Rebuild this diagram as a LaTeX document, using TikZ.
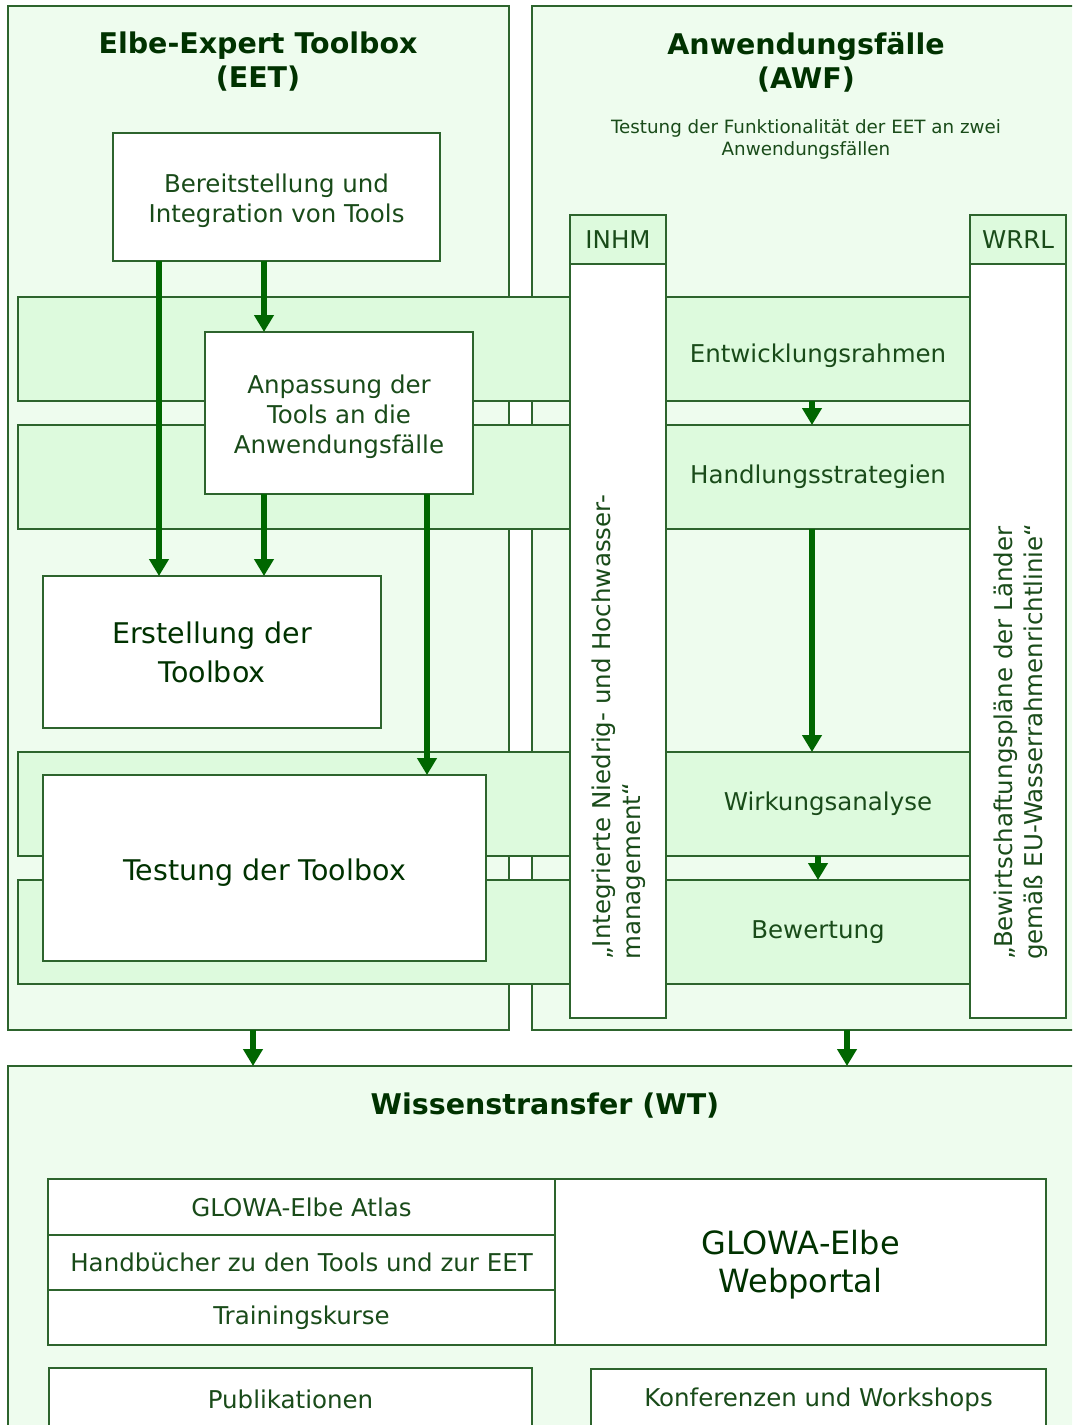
\documentclass[tikz,border=0pt]{standalone}
\usepackage{fontspec}
\setmainfont{DejaVu Sans}
\usetikzlibrary{arrows.meta}
\definecolor{lineg}{RGB}{45,100,45}
\definecolor{outerf}{RGB}{238,252,238}
\definecolor{bandf}{RGB}{221,250,221}
\definecolor{arrowg}{RGB}{0,102,0}
\definecolor{txtg}{RGB}{25,75,25}
\definecolor{titleg}{RGB}{0,50,0}
\begin{document}
\begin{tikzpicture}[x=1pt,y=-1pt,
  box/.style={draw=lineg, line width=1.4pt, inner sep=0pt, outer sep=0pt, text=txtg, align=center, font=\fontsize{24.5}{30}\selectfont},
  outerbox/.style={box, fill=outerf},
  bandbox/.style={box, fill=bandf},
  whitebox/.style={box, fill=white},
  bigtext/.style={font=\fontsize{28.5}{39}\selectfont, text=titleg},
  lbl/.style={inner sep=0pt, text=txtg, align=center, font=\fontsize{24.5}{30}\selectfont},
  smalllbl/.style={inner sep=0pt, text=txtg, align=center, font=\fontsize{18.3}{22}\selectfont},
  titletext/.style={inner sep=0pt, text=titleg, align=center, font=\bfseries\fontsize{28.5}{34}\selectfont},
  vtext/.style={inner sep=0pt, text=txtg, align=left, rotate=90, anchor=west, font=\fontsize{24.5}{30}\selectfont},
  flow/.style={draw=arrowg, line width=5.5pt, -{Triangle[width=19pt,length=17pt]}},
]
\useasboundingbox (0,0) rectangle (1072,1425);
\clip (0,0) rectangle (1072,1425);
\fill[white] (0,0) rectangle (1072,1425);

% containers
\node[outerbox, minimum width=501pt, minimum height=1024pt] (eet) at (258.5,518) {};
\node[outerbox, minimum width=558pt, minimum height=1024pt] (awf) at (811,518) {};
\node[outerbox, minimum width=1082pt, minimum height=374pt] (wt) at (549,1253) {};

% bands
\node[bandbox, minimum width=952pt, minimum height=104pt] (band1) at (494,349) {};
\node[bandbox, minimum width=952pt, minimum height=104pt] (band2) at (494,477) {};
\node[bandbox, minimum width=952pt, minimum height=104pt] (band3) at (494,804) {};
\node[bandbox, minimum width=952pt, minimum height=104pt] (band4) at (494,932) {};

\node[bandbox, minimum width=304pt, minimum height=104pt,
  label={[lbl, yshift=-7pt]center:Entwicklungsrahmen}] (entw) at (818,349) {};
\node[bandbox, minimum width=304pt, minimum height=104pt] (hand) at (818,477) {Handlungsstrategien};
\node[bandbox, minimum width=304pt, minimum height=104pt] (wirk) at (818,804) {\hspace*{20pt}Wirkungsanalyse};
\node[bandbox, minimum width=304pt, minimum height=104pt] (bew) at (818,932) {Bewertung};

% columns
\node[bandbox, minimum width=96pt, minimum height=49pt] (inhmh) at (618,239.5) {INHM};
\node[whitebox, minimum width=96pt, minimum height=754pt] (inhmb) at (618,641) {};
\node[bandbox, minimum width=96pt, minimum height=49pt] (wrrlh) at (1018,239.5) {WRRL};
\node[whitebox, minimum width=96pt, minimum height=754pt] (wrrlb) at (1018,641) {};
\node[vtext] (inhmtxt) at (619,960) {„Integrierte Niedrig- und Hochwasser-\\management“};
\node[vtext] (wrrltxt) at (1021,960) {„Bewirtschaftungspläne der Länder\\gemäß EU-Wasserrahmenrichtlinie“};

% titles
\node[titletext] (eettitle) at (258,62) {Elbe-Expert Toolbox\\(EET)};
\node[titletext] (awftitle) at (806,62) {Anwendungsfälle\\(AWF)};
\node[smalllbl] (awfsub) at (806,139) {Testung der Funktionalität der EET an zwei\\Anwendungsfällen};
\node[titletext] (wttitle) at (545,1106) {Wissenstransfer (WT)};

% EET boxes
\node[whitebox, minimum width=327pt, minimum height=128pt,
  label={[lbl, yshift=-4pt]center:{Bereitstellung und\\Integration von Tools}}] (bereit) at (276.5,197) {};
\node[whitebox, minimum width=268pt, minimum height=162pt,
  label={[lbl, yshift=-4pt]center:{Anpassung der\\Tools an die\\Anwendungsfälle}}] (anp) at (339,413) {};
\node[whitebox, bigtext, minimum width=338pt, minimum height=152pt] (erst) at (212,652) {Erstellung der\\Toolbox};
\node[whitebox, minimum width=443pt, minimum height=186pt,
  label={[lbl, bigtext, yshift=-5pt]center:Testung der Toolbox}] (test) at (264.5,868) {};

% WT boxes
\node[whitebox, minimum width=507pt, minimum height=56pt] (atlas) at (301.5,1207) {GLOWA-Elbe Atlas};
\node[whitebox, minimum width=507pt, minimum height=55pt] (handb) at (301.5,1262.5) {Handbücher zu den Tools und zur EET};
\node[whitebox, minimum width=507pt, minimum height=55pt] (train) at (301.5,1317.5) {Trainingskurse};
\node[whitebox, minimum width=491pt, minimum height=166pt,
  label={[lbl, font=\fontsize{32}{38}\selectfont, text=titleg, yshift=-3pt]center:{GLOWA-Elbe\\Webportal}}] (web) at (800.5,1262) {};
\node[whitebox, minimum width=483pt, minimum height=62pt] (publ) at (290.5,1399) {Publikationen};
\node[whitebox, minimum width=455pt, minimum height=62pt] (konf) at (818.5,1400) {Konferenzen und Workshops};

% arrows
\draw[flow] (bereit.south -| 159,0) -- (erst.north -| 159,0);
\draw[flow] (bereit.south -| 264,0) -- (anp.north -| 264,0);
\draw[flow] (anp.south -| 264,0) -- (erst.north -| 264,0);
\draw[flow] (anp.south -| 427,0) -- (test.north -| 427,0);
\draw[flow] (entw.south -| 812,0) -- (hand.north -| 812,0);
\draw[flow] (hand.south -| 812,0) -- (wirk.north -| 812,0);
\draw[flow] (wirk.south -| 818,0) -- (bew.north -| 818,0);
\draw[flow] (eet.south -| 253,0) -- (wt.north -| 253,0);
\draw[flow] (awf.south -| 847,0) -- (wt.north -| 847,0);
\end{tikzpicture}
\end{document}
